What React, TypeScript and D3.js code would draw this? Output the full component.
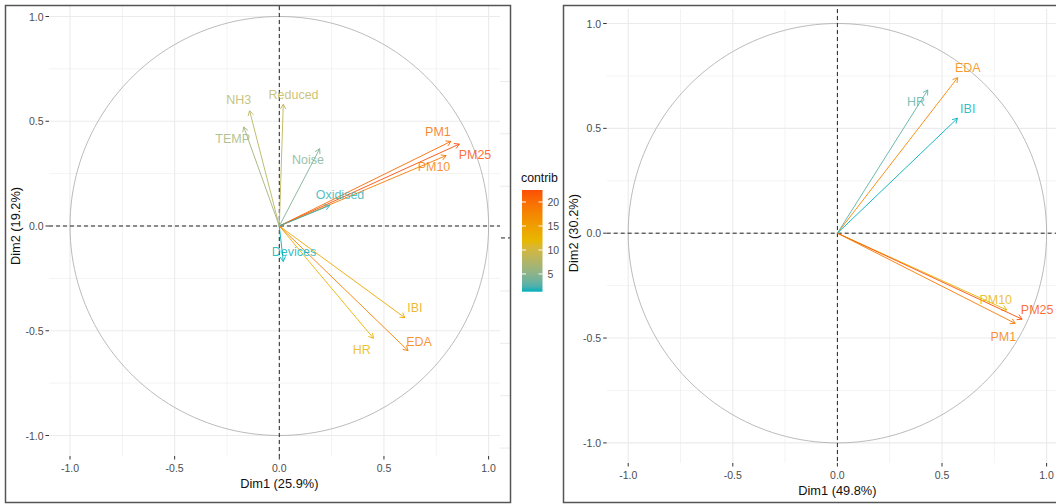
import React from 'react';
import * as d3 from 'd3';

// ---------- Left PCA (Dim1 25.9%, Dim2 19.2%) ----------
const leftVars = ['PM1', 'PM25', 'PM10', 'Oxidised', 'Noise', 'Reduced', 'NH3', 'TEMP', 'Devices', 'IBI', 'HR', 'EDA'];
const leftDim1 = [0.82, 0.86, 0.797, 0.241, 0.193, 0.019, -0.142, -0.17, 0.019, 0.6, 0.45, 0.615];
const leftDim2 = [0.404, 0.391, 0.336, 0.098, 0.369, 0.581, 0.55, 0.473, -0.169, -0.438, -0.536, -0.595];
const leftContrib = [20.3, 22.5, 18.8, 1.7, 4.3, 8.5, 8.0, 6.3, 1.3, 13.9, 12.4, 18.4];
const leftLabelX = [0.758, 0.935, 0.739, 0.29, 0.137, 0.068, -0.194, -0.223, 0.07, 0.648, 0.394, 0.668];
const leftLabelY = [0.45, 0.338, 0.282, 0.146, 0.315, 0.625, 0.6, 0.414, -0.125, -0.393, -0.59, -0.555];

// ---------- Right PCA (Dim1 49.8%, Dim2 30.2%) ----------
const rightVars = ['EDA', 'HR', 'IBI', 'PM10', 'PM25', 'PM1'];
const rightDim1 = [0.575, 0.432, 0.574, 0.81, 0.883, 0.85];
const rightDim2 = [0.742, 0.683, 0.548, -0.366, -0.41, -0.43];
const rightContrib = [18.2, 13.6, 13.1, 16.6, 19.75, 18.6];
const rightLabelX = [0.623, 0.376, 0.623, 0.757, 0.955, 0.793];
const rightLabelY = [0.787, 0.628, 0.593, -0.319, -0.366, -0.494];

const majorTicks = [-1, -0.5, 0, 0.5, 1];
const minorTicks = [-0.75, -0.25, 0.25, 0.75];
const legendTicks = [5, 10, 15, 20];
const gradientCols = ['#00AFBB', '#E7B800', '#FC4E07'];

// faint fragments of a neighbouring plot at the right edge of the left frame
const ghostGridY = [0.69, 0.44, 0.19, -0.31, -0.56, -0.81, -1.06];
const ghostDashY = -0.057;

const FONT = '"Liberation Sans", Arial, Helvetica, sans-serif';

function makeColor(values: number[]) {
  const mn = d3.min(values)!;
  const mx = d3.max(values)!;
  return d3
    .scaleLinear<string>()
    .domain([mn, (mn + mx) / 2, mx])
    .range(gradientCols)
    .interpolate(d3.interpolateLab);
}

type PanelProps = {
  id: string;
  xs: d3.ScaleLinear<number, number>;
  ys: d3.ScaleLinear<number, number>;
  panel: { left: number; right: number; top: number; bottom: number };
  vars: string[];
  d1: number[];
  d2: number[];
  contrib: number[];
  lx: number[];
  ly: number[];
  xTitle: string;
  yTitle: string;
  yTitleX: number;
  xTickY: number;
  xTitleY: number;
};

function Panel(p: PanelProps) {
  const { xs, ys, panel } = p;
  const color = makeColor(p.contrib);
  const circle = d3.range(0, 361, 2).map((a) => [Math.cos((a * Math.PI) / 180), Math.sin((a * Math.PI) / 180)]);
  const circlePath = d3
    .line<number[]>()
    .x((d) => xs(d[0]))
    .y((d) => ys(d[1]))(circle) as string;
  const x0 = xs(0);
  const y0 = ys(0);
  const headLen = 5.5;
  const headAng = Math.PI / 6;
  return (
    <g>
      <defs>
        <clipPath id={p.id}>
          <rect x={panel.left} y={panel.top} width={panel.right - panel.left} height={panel.bottom - panel.top} />
        </clipPath>
      </defs>
      <g clipPath={`url(#${p.id})`}>
        {minorTicks.map((t) => (
          <g key={'mi' + t}>
            <line x1={xs(t)} x2={xs(t)} y1={panel.top} y2={panel.bottom} stroke="#EBEBEB" strokeWidth={0.6} />
            <line y1={ys(t)} y2={ys(t)} x1={panel.left} x2={panel.right} stroke="#EBEBEB" strokeWidth={0.6} />
          </g>
        ))}
        {majorTicks.map((t) => (
          <g key={'ma' + t}>
            <line x1={xs(t)} x2={xs(t)} y1={panel.top} y2={panel.bottom} stroke="#EBEBEB" strokeWidth={1.1} />
            <line y1={ys(t)} y2={ys(t)} x1={panel.left} x2={panel.right} stroke="#EBEBEB" strokeWidth={1.1} />
          </g>
        ))}
        <path d={circlePath} fill="none" stroke="#AAAAAA" strokeWidth={0.8} />
        <line x1={panel.left} x2={panel.right} y1={y0} y2={y0} stroke="#222" strokeWidth={1} strokeDasharray="4,3" />
        <line x1={x0} x2={x0} y1={panel.top} y2={panel.bottom} stroke="#222" strokeWidth={1} strokeDasharray="4,3" />
        {p.vars.map((v, i) => {
          const tx = xs(p.d1[i]);
          const ty = ys(p.d2[i]);
          const ang = Math.atan2(ty - y0, tx - x0);
          const a1x = tx - headLen * Math.cos(ang - headAng);
          const a1y = ty - headLen * Math.sin(ang - headAng);
          const a2x = tx - headLen * Math.cos(ang + headAng);
          const a2y = ty - headLen * Math.sin(ang + headAng);
          const c = color(p.contrib[i]);
          return (
            <g key={'ar' + v}>
              <line x1={x0} y1={y0} x2={tx} y2={ty} stroke={c} strokeWidth={0.9} />
              <path d={`M${a1x},${a1y}L${tx},${ty}L${a2x},${a2y}`} fill="none" stroke={c} strokeWidth={0.9} />
            </g>
          );
        })}
        {p.vars.map((v, i) => (
          <text
            key={'lb' + v}
            x={xs(p.lx[i])}
            y={ys(p.ly[i])}
            fill={color(p.contrib[i])}
            fillOpacity={0.82}
            fontSize={12.5}
            fontFamily={FONT}
            textAnchor="middle"
            dominantBaseline="central"
          >
            {v}
          </text>
        ))}
      </g>
      {/* axes */}
      {majorTicks.map((t) => (
        <g key={'ax' + t}>
          <line x1={panel.left - 3.5} x2={panel.left} y1={ys(t)} y2={ys(t)} stroke="#333" strokeWidth={1} />
          <text
            x={panel.left - 5.5}
            y={ys(t)}
            fontSize={10.5}
            fontFamily={FONT}
            fill="#4D4D4D"
            textAnchor="end"
            dominantBaseline="central"
          >
            {d3.format('.1f')(t).replace('−', '-')}
          </text>
          <line x1={xs(t)} x2={xs(t)} y1={panel.bottom} y2={panel.bottom + 3.5} stroke="#333" strokeWidth={1} />
          <text
            x={xs(t)}
            y={p.xTickY}
            fontSize={10.5}
            fontFamily={FONT}
            fill="#4D4D4D"
            textAnchor="middle"
            dominantBaseline="central"
          >
            {d3.format('.1f')(t).replace('−', '-')}
          </text>
        </g>
      ))}
      <text x={x0} y={p.xTitleY} fontSize={12.8} fontFamily={FONT} fill="#111" textAnchor="middle" dominantBaseline="central">
        {p.xTitle}
      </text>
      <text
        transform={`translate(${p.yTitleX},${y0}) rotate(-90)`}
        fontSize={12.8}
        fontFamily={FONT}
        fill="#111"
        textAnchor="middle"
        dominantBaseline="central"
      >
        {p.yTitle}
      </text>
    </g>
  );
}

export default function App() {
  const xsL = d3.scaleLinear().domain([-1, 1]).range([70, 488.6]);
  const ysL = d3.scaleLinear().domain([-1, 1]).range([435.5, 16.5]);
  const xsR = d3.scaleLinear().domain([-1, 1]).range([628.2, 1046.6]);
  const ysR = d3.scaleLinear().domain([-1, 1]).range([442.9, 23.5]);

  const lmin = d3.min(leftContrib)!;
  const lmax = d3.max(leftContrib)!;
  const legTop = 190;
  const legBot = 291.7;
  const legScale = d3.scaleLinear().domain([lmin, lmax]).range([legBot, legTop]);
  const legendColor = makeColor(leftContrib);
  const stops = d3.range(0, 1.0001, 0.05);

  return (
    <svg width={1056} height={504} style={{ position: 'absolute', left: 0, top: 0, background: '#fff' }}>
      <rect x={0} y={0} width={1056} height={504} fill="#fff" />
      <Panel
        id="clipL"
        xs={xsL}
        ys={ysL}
        panel={{ left: 49, right: 500, top: 6, bottom: 456 }}
        vars={leftVars}
        d1={leftDim1}
        d2={leftDim2}
        contrib={leftContrib}
        lx={leftLabelX}
        ly={leftLabelY}
        xTitle="Dim1 (25.9%)"
        yTitle="Dim2 (19.2%)"
        yTitleX={15}
        xTickY={468}
        xTitleY={483.5}
      />
      {ghostGridY.map((g) => (
        <line key={'gh' + g} x1={500} x2={510} y1={ysL(g)} y2={ysL(g)} stroke="#EBEBEB" strokeWidth={1} />
      ))}
      <line x1={501} x2={510} y1={ysL(ghostDashY)} y2={ysL(ghostDashY)} stroke="#222" strokeWidth={1} strokeDasharray="4,3" />
      <rect x={5.5} y={5.5} width={505} height={497} fill="none" stroke="#555" strokeWidth={1.5} />

      {/* legend */}
      <defs>
        <linearGradient id="legGrad" x1="0" y1="1" x2="0" y2="0">
          {stops.map((s) => (
            <stop key={s} offset={s} stopColor={legendColor(lmin + s * (lmax - lmin))} />
          ))}
        </linearGradient>
      </defs>
      <text x={521} y={178} fontSize={12.3} fontFamily={FONT} fill="#111" dominantBaseline="central">
        contrib
      </text>
      <rect x={522} y={legTop} width={20.5} height={legBot - legTop} fill="url(#legGrad)" />
      {legendTicks.map((t) => (
        <g key={'lt' + t}>
          <line x1={522} x2={526} y1={legScale(t)} y2={legScale(t)} stroke="#fff" strokeWidth={1} />
          <line x1={538.5} x2={542.5} y1={legScale(t)} y2={legScale(t)} stroke="#fff" strokeWidth={1} />
          <text x={547.5} y={legScale(t)} fontSize={10.5} fontFamily={FONT} fill="#4D4D4D" dominantBaseline="central">
            {t}
          </text>
        </g>
      ))}

      <Panel
        id="clipR"
        xs={xsR}
        ys={ysR}
        panel={{ left: 606.7, right: 1056, top: 9, bottom: 463 }}
        vars={rightVars}
        d1={rightDim1}
        d2={rightDim2}
        contrib={rightContrib}
        lx={rightLabelX}
        ly={rightLabelY}
        xTitle="Dim1 (49.8%)"
        yTitle="Dim2 (30.2%)"
        yTitleX={573.5}
        xTickY={475}
        xTitleY={490.5}
      />
      <rect x={563.5} y={5.5} width={520} height={497} fill="none" stroke="#555" strokeWidth={1.5} />
    </svg>
  );
}
